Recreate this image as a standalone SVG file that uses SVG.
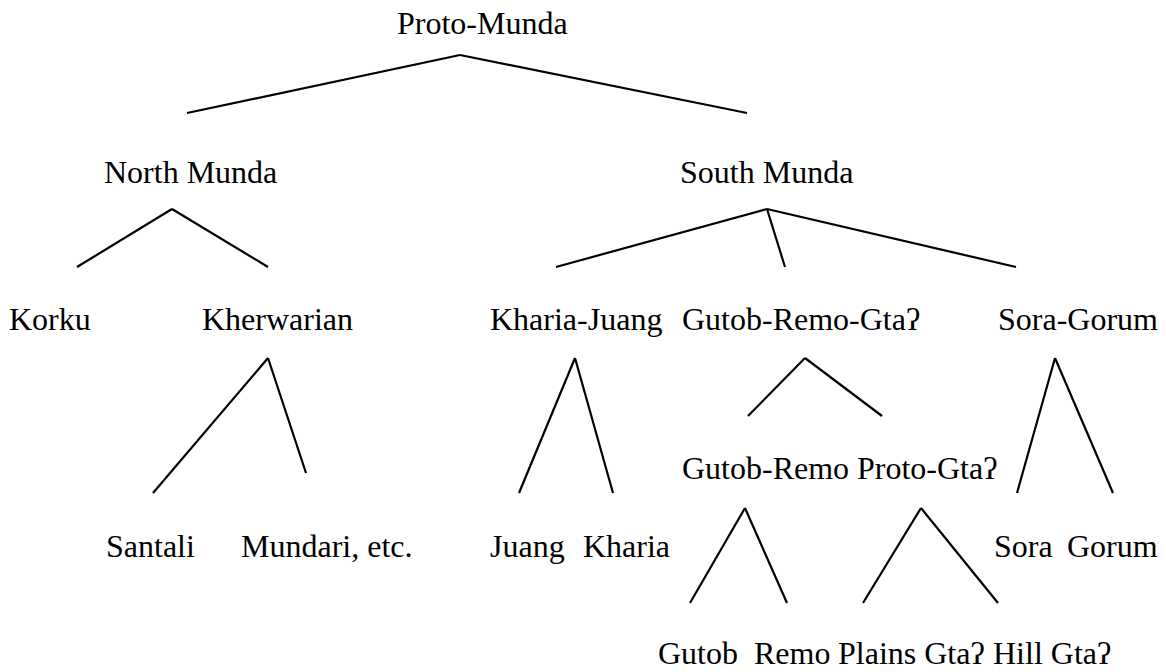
<svg xmlns="http://www.w3.org/2000/svg" width="1166" height="672" viewBox="0 0 1166 672">
<style>
text{font-family:"Liberation Serif","Times New Roman",serif;font-size:32px;fill:#000}
.c line{stroke:#000;stroke-width:2.2;stroke-linecap:butt}
</style>
<rect width="1166" height="672" fill="#fff"/>
<g class="c" id="connectors">
<line x1="460" y1="55" x2="187" y2="113"/>
<line x1="460" y1="55" x2="747" y2="113"/>
<line x1="172" y1="209" x2="77" y2="267"/>
<line x1="172" y1="209" x2="268" y2="267"/>
<line x1="767" y1="209" x2="556" y2="267"/>
<line x1="767" y1="209" x2="785" y2="267"/>
<line x1="767" y1="209" x2="1016" y2="267"/>
<line x1="268" y1="358" x2="153" y2="493"/>
<line x1="268" y1="358" x2="306" y2="473"/>
<line x1="575" y1="358" x2="519" y2="493"/>
<line x1="575" y1="358" x2="613" y2="493"/>
<line x1="805" y1="358" x2="748" y2="416"/>
<line x1="805" y1="358" x2="882" y2="416"/>
<line x1="1055" y1="358" x2="1017" y2="493"/>
<line x1="1055" y1="358" x2="1113" y2="493"/>
<line x1="745" y1="508" x2="690" y2="603"/>
<line x1="745" y1="508" x2="787" y2="603"/>
<line x1="921" y1="508" x2="863" y2="603"/>
<line x1="921" y1="508" x2="998" y2="603"/>
</g>
<g id="proto-munda"><text x="397" y="34">Proto-Munda</text></g>
<g id="north-munda"><text x="104" y="183">North Munda</text></g>
<g id="south-munda"><text x="680" y="183">South Munda</text></g>
<g id="korku"><text x="9" y="330">Korku</text></g>
<g id="kherwarian"><text x="202" y="330">Kherwarian</text></g>
<g id="kharia-juang"><text x="490" y="330">Kharia-Juang</text></g>
<g id="gutob-remo-gta"><text x="682" y="330">Gutob-Remo-Gtaʔ</text></g>
<g id="sora-gorum"><text x="998" y="330">Sora-Gorum</text></g>
<g id="gutob-remo"><text x="682" y="479">Gutob-Remo</text></g>
<g id="proto-gta"><text x="857" y="479">Proto-Gtaʔ</text></g>
<g id="santali"><text x="106" y="557">Santali</text></g>
<g id="mundari"><text x="241" y="557">Mundari, etc.</text></g>
<g id="juang"><text x="490" y="557">Juang</text></g>
<g id="kharia"><text x="583" y="557">Kharia</text></g>
<g id="sora"><text x="994" y="557">Sora</text></g>
<g id="gorum"><text x="1067" y="557">Gorum</text></g>
<g id="gutob"><text x="658" y="664">Gutob</text></g>
<g id="remo"><text x="754" y="664">Remo</text></g>
<g id="plains-gta"><text x="838" y="664">Plains Gtaʔ</text></g>
<g id="hill-gta"><text x="993" y="664">Hill Gtaʔ</text></g>
</svg>
